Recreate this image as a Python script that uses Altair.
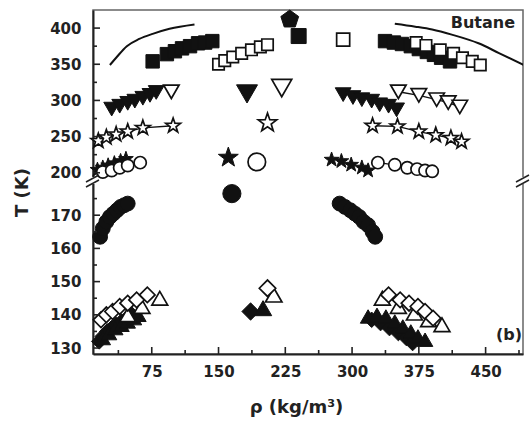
import altair as alt
import pandas as pd

# ---------------- data: (rho [kg/m3], T [K]) ----------------
# each data set: vapour branch, critical point, liquid branch
fsq_vap = [(76, 354), (92, 364), (101, 368), (109, 372), (118, 375), (127, 379), (135, 380), (143, 382)]
fsq_crit = [(240, 389)]
fsq_liq = [(337, 382), (347, 380), (356, 378), (366, 375), (375, 371), (384, 367), (392, 363), (400, 359), (410, 354)]

osq_vap = [(150, 350), (157, 355), (166, 360), (176, 365), (187, 370), (197, 374), (205, 377)]
osq_crit = [(290, 384)]
osq_liq = [(372, 380), (383, 376), (399, 370), (414, 365), (424, 359), (435, 354), (444, 349)]

pent_crit = [(230, 412)]

ftd_vap = [(30, 288), (39, 292), (48, 296), (56, 299), (65, 303), (73, 307), (80, 311)]
ftd_crit = [(182, 309)]
ftd_liq = [(290, 308), (301, 304), (311, 301), (322, 299), (331, 294), (341, 292), (350, 287)]

otd_vap = [(97, 312)]
otd_crit = [(221, 317)]
otd_liq = [(352, 312), (375, 307), (395, 301), (408, 297), (421, 291)]

ost_vap = [(15, 244), (24, 249), (35, 253), (48, 257), (65, 262), (99, 265)]
ost_crit = [(205, 269)]
ost_liq = [(323, 265), (351, 264), (375, 257), (394, 252), (411, 248), (423, 243)]

fst_vap = [(14, 204), (20, 207), (26, 210), (33, 213), (40, 216), (46, 219)]
fst_crit = [(161, 221)]
fst_liq = [(277, 218), (288, 216), (299, 211), (311, 207), (318, 203)]

oci_vap = [(20, 201), (30, 203), (39, 207), (48, 210), (62, 214)]
oci_crit = [(193, 215)]
oci_liq = [(329, 214), (348, 211), (362, 207), (373, 205), (382, 203), (390, 202)]

fci_vap = [(17, 163.5), (20, 166), (24, 168), (28, 169.5), (32, 170.5), (36, 171.5), (40, 172.5), (44, 173), (48, 173.5)]
fci_crit = [(165, 176.5)]
fci_liq = [(286, 173.5), (292, 172.5), (298, 171.5), (303, 170.5), (308, 169.5), (313, 168), (318, 167), (323, 165), (326, 163.5)]

fdi_vap = [(16, 132), (20, 133.5), (25, 135), (30, 136), (35, 137), (41, 138), (47, 139), (53, 140)]
fdi_crit = [(186, 141)]
fdi_liq = [(322, 138.5), (332, 137.5), (342, 136), (352, 134.5), (361, 133), (368, 131.5)]

ftu_vap = [(20, 133), (27, 134.5), (34, 136), (41, 137), (48, 138), (55, 139), (60, 140)]
ftu_crit = [(200, 142)]
ftu_liq = [(318, 139.5), (328, 140), (338, 139.5), (348, 138), (357, 136.5), (366, 135), (374, 133.5), (382, 132.5)]

otu_vap = [(48, 140), (64, 142.5), (84, 145)]
otu_crit = [(212, 146)]
otu_liq = [(334, 145), (352, 142.5), (370, 140.5), (386, 138.5), (401, 137)]

odi_vap = [(18, 138.5), (24, 140), (31, 141), (39, 142.5), (48, 143.5), (58, 144.5), (70, 146)]
odi_crit = [(205, 148)]
odi_liq = [(341, 146), (354, 144.5), (364, 143.5), (374, 142.5), (382, 141), (391, 139)]

# saturation curves of bulk butane
butane_vap_curve = [(28, 349), (35, 359), (47, 375), (61, 385), (76, 392), (95, 399), (123, 405)]
butane_liq_curve = [(348, 406), (371, 402), (390, 398), (412, 391), (442, 379), (465, 365.5), (493, 349)]

# axis ticks
x_major = [75, 150, 225, 300, 375, 450]
x_minor = [37.5, 112.5, 187.5, 262.5, 337.5, 412.5, 487.5]
y_major = [130, 140, 150, 160, 170, 200, 250, 300, 350, 400]
y_minor = [135, 145, 155, 165, 175, 225, 275, 325, 375]

# ---------------- chart ----------------
W, H = 430, 344
FONT = "DejaVu Sans"
STAR = ("M0,-1 L0.235,-0.324 L0.951,-0.309 L0.380,0.124 L0.588,0.809 "
        "L0,0.4 L-0.588,0.809 L-0.380,0.124 L-0.951,-0.309 L-0.235,-0.324 Z")
PENT = "M0,-1 L0.951,-0.309 L0.588,0.809 L-0.588,0.809 L-0.951,-0.309 Z"

xs = alt.Scale(domain=[9, 492], range=[0, W], nice=False, zero=False)
ys = alt.Scale(domain=[128.2, 180, 190, 425], range=[H, 172, 170, 0], nice=False, zero=False)

series = [
    # name, shape, filled, vap, crit, liq, size, crit size
    ("fsq", "square", True, fsq_vap, fsq_crit, fsq_liq, 180, 225),
    ("osq", "square", False, osq_vap, osq_crit, osq_liq, 130, 170),
    ("pent", PENT, True, [], pent_crit, [], 0, 350),
    ("ftd", "triangle-down", True, ftd_vap, ftd_crit, ftd_liq, 250, 440),
    ("otd", "triangle-down", False, otd_vap, otd_crit, otd_liq, 240, 400),
    ("ost", STAR, False, ost_vap, ost_crit, ost_liq, 240, 380),
    ("fst", STAR, True, fst_vap, fst_crit, fst_liq, 240, 440),
    ("oci", "circle", False, oci_vap, oci_crit, oci_liq, 150, 310),
    ("fci", "circle", True, fci_vap, fci_crit, fci_liq, 220, 330),
    ("fdi", "diamond", True, fdi_vap, fdi_crit, fdi_liq, 240, 300),
    ("ftu", "triangle-up", True, ftu_vap, ftu_crit, ftu_liq, 240, 300),
    ("otu", "triangle-up", False, otu_vap, otu_crit, otu_liq, 250, 270),
    ("odi", "diamond", False, odi_vap, odi_crit, odi_liq, 240, 270),
]
connected = {"ost", "otd", "oci"}

x_axis = alt.Axis(values=x_major, ticks=False, grid=False, domainColor="#222", domainWidth=2,
                  labelFont=FONT, labelFontWeight="bold", labelFontSize=15, labelColor="#222",
                  labelPadding=10, title="ρ (kg/m³)", titleFont=FONT, titleFontWeight="bold",
                  titleFontSize=18, titleColor="#222", titleX=203, titleY=58,
                  titleBaseline="alphabetic", titleAlign="center")
y_axis = alt.Axis(values=y_major, ticks=False, grid=False, domainColor="#222", domainWidth=2,
                  labelFont=FONT, labelFontWeight="bold", labelFontSize=15, labelColor="#222",
                  labelPadding=12, title="T (K)", titleFont=FONT, titleFontWeight="bold",
                  titleFontSize=18, titleColor="#222", titleX=-66, titleY=182,
                  titleBaseline="alphabetic", titleAlign="center", titleAngle=270)


def X(field):
    return alt.X(field, scale=xs, axis=x_axis)


def Y(field):
    return alt.Y(field, scale=ys, axis=y_axis)


layers = []

# butane curves
for pts in (butane_vap_curve, butane_liq_curve):
    df = pd.DataFrame(pts, columns=["rho", "T"])
    layers.append(alt.Chart(df).mark_line(color="#111", strokeWidth=2, interpolate="monotone", clip=True).encode(
        x=X("rho:Q"), y=Y("T:Q"), order="rho:Q"))

# connecting lines
for name, shape, filled, vap, crit, liq, s, cs in series:
    if name in connected:
        for br in (vap, liq):
            if len(br) > 1:
                df = pd.DataFrame(br, columns=["rho", "T"])
                layers.append(alt.Chart(df).mark_line(color="#111", strokeWidth=1.3).encode(
                    x=X("rho:Q"), y=Y("T:Q"), order="rho:Q"))

# points
for name, shape, filled, vap, crit, liq, s, cs in series:
    rows = [(r, t, s) for r, t in vap] + [(r, t, cs) for r, t in crit] + [(r, t, s) for r, t in liq]
    df = pd.DataFrame(rows, columns=["rho", "T", "size"])
    layers.append(alt.Chart(df).mark_point(
        shape=shape, filled=True, fill="#111" if filled else "white", stroke="#111",
        strokeWidth=1.0 if filled else 1.7, opacity=1).encode(
        x=X("rho:Q"), y=Y("T:Q"), size=alt.Size("size:Q", scale=None)))

# inward ticks
tick_specs = [(x_major, "x", 7), (x_minor, "x", 4), (y_major, "y", 7), (y_minor, "y", 4)]
for vals, ch, ln in tick_specs:
    df = pd.DataFrame({"rho": vals, "T": vals})
    if ch == "x":
        enc = dict(x=X("rho:Q"), y=alt.value(H), y2=alt.value(H - ln))
    else:
        enc = dict(y=Y("T:Q"), x=alt.value(0), x2=alt.value(ln))
    layers.append(alt.Chart(df).mark_rule(color="#222", strokeWidth=1.6).encode(**enc))

# axis break marks (decoration)
one = pd.DataFrame({"a": [0]})
for xv in (0, W):
    layers.append(alt.Chart(one).mark_rule(color="white", strokeWidth=5).encode(
        x=alt.value(xv), y=alt.value(167), y2=alt.value(174)))
    for dy in (0, 5):
        layers.append(alt.Chart(one).mark_rule(color="#222", strokeWidth=1.5).encode(
            x=alt.value(xv - 7), x2=alt.value(xv + 6), y=alt.value(172 + dy), y2=alt.value(165 + dy)))

# labels
lab = pd.DataFrame({"rho": [483, 491], "T": [407, 134], "t": ["Butane", "(b)"]})
layers.append(alt.Chart(lab).mark_text(align="right", baseline="middle", font=FONT, fontWeight="bold",
                                       fontSize=16, color="#222").encode(
    x=X("rho:Q"), y=Y("T:Q"), text="t:N"))

chart = alt.layer(*layers).properties(
    width=W, height=H,
    autosize=alt.AutoSizeParams(type="none"),
    padding={"left": 93, "top": 10, "right": 7, "bottom": 70},
).configure_view(stroke="#666", strokeWidth=1.5)

chart.save("out.html", embed_options={"renderer": "svg", "actions": False})
